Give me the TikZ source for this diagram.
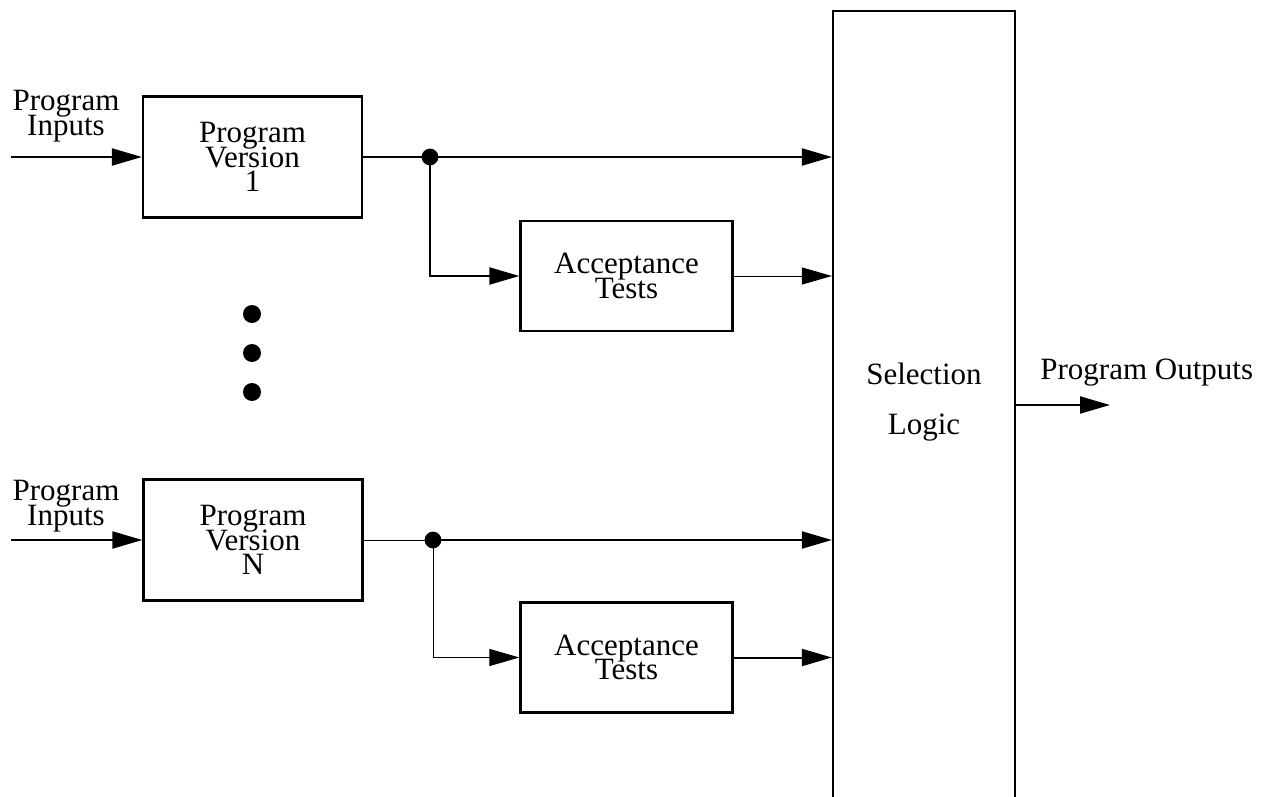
\documentclass[tikz,border=0pt]{standalone}
\usepackage{fontspec}
\setmainfont{Liberation Serif}
\usetikzlibrary{arrows.meta,positioning}
\setlength{\lineskiplimit}{-20pt}

\begin{document}
\begin{tikzpicture}[
  x=0.5pt, y=-0.5pt,
  every node/.style={font=\fontsize{15.5}{12.3}\selectfont, align=center},
  blk/.style={draw, line width=1.1pt, inner sep=0pt},
  arr/.style={line width=1pt, -{Triangle[length=15pt,width=8.5pt]}},
  wire/.style={line width=1pt},
  thinwire/.style={line width=0.5pt},
  jdot/.style={circle, fill, inner sep=0pt, minimum size=8.4pt},
  bigdot/.style={circle, fill, inner sep=0pt, minimum size=9pt}
]

\useasboundingbox (0,0) rectangle (1270,797);
\clip (0,0) rectangle (1270,797);

  % program versions
  \node [
    blk,
    minimum width = 109.5pt,
    minimum height = 60.5pt] (pv1) at (252.5,157) {Program\\Version\\1};
  \node [
    blk,
    minimum width = 109.5pt,
    minimum height = 60.5pt] (pvN) at (253,540) {Program\\Version\\N};

  % acceptance tests
  \node [
    blk,
    minimum width = 106pt,
    minimum height = 55pt] (at1) at (626.5,276) {Acceptance\\Tests};
  \node [
    blk,
    minimum width = 106pt,
    minimum height = 55pt] (atN) at (626.5,657.5) {Acceptance\\Tests};

  % selection logic (runs off the bottom)
  \node [
    blk,
    minimum width = 91pt,
    minimum height = 400pt] (sel) at (924,411) {};
  \node [font=\fontsize{15.5}{25}\selectfont] (seltxt) at (924,402) {Selection\\Logic};

  % inputs
  \coordinate (in1) at (11,157);
  \coordinate (inN) at (11,540);
  \node (inlbl1) at (66,116) {Program\\Inputs};
  \node (inlblN) at (66,506) {Program\\Inputs};
  \draw [arr] (in1) -- (pv1.west |- in1);
  \draw [arr] (inN) -- (pvN.west |- inN);

  % branch points
  \node [jdot] (j1) at (430,157) {};
  \node [jdot] (jN) at (433,540) {};

  \draw [wire] (pv1.east) -- (j1.center);
  \draw [arr] (j1.center) -- (j1 -| sel.west);
  \draw [arr] (j1.center) |- (at1.west);
  \draw [thinwire, -{Triangle[length=15pt,width=8.5pt]}] (at1.east) -- (at1 -| sel.west);

  \draw [thinwire] (pvN.east) -- (jN.center);
  \draw [arr] (jN.center) -- (jN -| sel.west);
  \draw [thinwire, -{Triangle[length=15pt,width=8.5pt]}] (jN.center) |- (atN.west);
  \draw [arr] (atN.east) -- (atN -| sel.west);

\foreach \k/\yy in {1/314,2/353,3/392} {
  \node [bigdot] (dot\k) at (252,\yy) {};
}

  % output
  \coordinate (outend) at (1110,405);
  \draw [arr] (sel.east |- outend) -- (outend);
  \node [anchor=base west, inner sep=0pt] (outlbl) at (1040,379) {Program Outputs};

\end{tikzpicture}
\end{document}
